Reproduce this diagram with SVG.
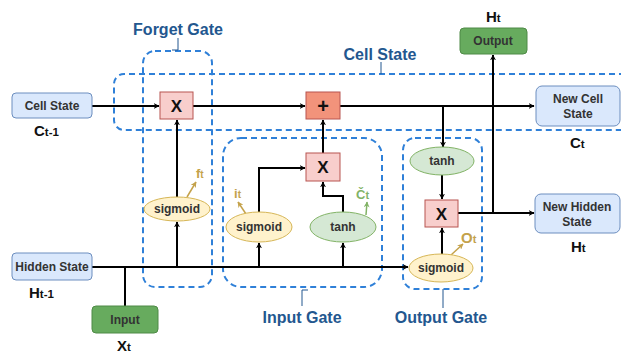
<svg xmlns="http://www.w3.org/2000/svg" width="621" height="356" viewBox="0 0 621 356">
<style>
text{font-family:"Liberation Sans",Arial,sans-serif;font-weight:bold}
.nt{font-size:12px;fill:#333;text-anchor:middle}
.lbl{font-size:16px;fill:#23578f;text-anchor:middle}
.var{font-size:15px;fill:#111}
.sub{font-size:11.5px}
.op{font-size:17px;fill:#111;text-anchor:middle}
.blue{fill:#dae8fc;stroke:#6c8ebf;stroke-width:1}
.grn{fill:#67ab5e;stroke:#4f8a46;stroke-width:1}
.mul{fill:#f8cecc;stroke:#b85450;stroke-width:1}
.add{fill:#f2937b;stroke:#b85450;stroke-width:1}
.sig{fill:#fff2cc;stroke:#d6b656;stroke-width:1}
.tanh{fill:#d5e8d4;stroke:#82b366;stroke-width:1}
.dash{fill:none;stroke:#2f80d8;stroke-width:2;stroke-dasharray:6 4}
.call{fill:none;stroke:#23578f;stroke-width:1}
.ln{fill:none;stroke:#000;stroke-width:2}
.arr{marker-end:url(#ah)}
.gold{fill:#c4a24b}
.gl{fill:none;stroke:#c4a24b;stroke-width:1.5;marker-end:url(#ahg)}
.gg{fill:none;stroke:#82b366;stroke-width:1.5;marker-end:url(#ahgr)}
</style>
<defs>
<marker id="ah" viewBox="0 0 10 10" refX="9" refY="5" markerWidth="6" markerHeight="6" markerUnits="userSpaceOnUse" orient="auto"><path d="M0,0 L10,5 L0,10 L3,5 z" fill="#000"/></marker>
<marker id="ahg" viewBox="0 0 10 10" refX="9" refY="5" markerWidth="6" markerHeight="6" markerUnits="userSpaceOnUse" orient="auto"><path d="M0,0 L10,5 L0,10 L3,5 z" fill="#c4a24b"/></marker>
<marker id="ahgr" viewBox="0 0 10 10" refX="9" refY="5" markerWidth="6" markerHeight="6" markerUnits="userSpaceOnUse" orient="auto"><path d="M0,0 L10,5 L0,10 L3,5 z" fill="#82b366"/></marker>
</defs>
<rect width="621" height="356" fill="#fff"/>

<g id="regions">
<path class="dash" d="M625,74 H124 A10,10 0 0 0 114,84 V120 A10,10 0 0 0 124,130 H625"/>
<rect class="dash" x="143" y="51" width="69" height="236" rx="12"/>
<rect class="dash" x="223" y="138" width="159" height="149" rx="18"/>
<rect class="dash" x="403" y="138" width="79" height="151" rx="12"/>
<path class="call" d="M178,38 V50 H172"/>
<path class="call" d="M381,62 V74"/>
<path class="call" d="M302,306 V290 H308"/>
<path class="call" d="M443,289 V308"/>
<text class="lbl" x="178" y="35">Forget Gate</text>
<text class="lbl" x="380" y="60">Cell State</text>
<text class="lbl" x="302" y="323">Input Gate</text>
<text class="lbl" x="441" y="323">Output Gate</text>
</g>

<g id="connectors">
<path class="ln arr" d="M92,106 H159"/>
<path class="ln arr" d="M193,106 H305"/>
<path class="ln arr" d="M340,106 H534"/>
<path class="ln arr" d="M443,106 V147"/>
<path class="ln" d="M92,267 H125"/>
<path class="ln arr" d="M125,267 H408"/>
<path class="ln" d="M125,306 V267"/>
<path class="ln arr" d="M177,267 V222"/>
<path class="ln arr" d="M177,197 V120"/>
<path class="ln arr" d="M259,267 V243"/>
<path class="ln arr" d="M343,267 V243"/>
<path class="ln arr" d="M259,212 V168 H305"/>
<path class="ln arr" d="M343,212 V196 H323 V182"/>
<path class="ln arr" d="M323,153 V120"/>
<path class="ln arr" d="M442,175 V199"/>
<path class="ln arr" d="M442,254 V228"/>
<path class="ln arr" d="M458,213 H534"/>
<path class="ln arr" d="M493,213 V55"/>
<path class="gl" d="M187,197 L196,182"/>
<path class="gl" d="M246,214 L238,202"/>
<path class="gl" d="M451,255 L463,244"/>
<path class="gg" d="M366,215 L367,202"/>
</g>

<g id="cell-state-in"><rect class="blue" x="12" y="93" width="80" height="25" rx="4"/><text class="nt" x="52" y="110">Cell State</text></g>
<g id="hidden-state-in"><rect class="blue" x="12" y="253" width="80" height="27" rx="4"/><text class="nt" x="52" y="271">Hidden State</text></g>
<g id="input"><rect class="grn" x="92" y="306" width="66" height="27" rx="4"/><text class="nt" x="125" y="324">Input</text></g>
<g id="output"><rect class="grn" x="460" y="28" width="67" height="26" rx="4"/><text class="nt" x="493" y="45">Output</text></g>
<g id="new-cell-state"><rect class="blue" x="536" y="86" width="84" height="40" rx="6"/><text class="nt" x="578" y="103">New Cell</text><text class="nt" x="578" y="118">State</text></g>
<g id="new-hidden-state"><rect class="blue" x="535" y="194" width="85" height="39" rx="6"/><text class="nt" x="577" y="211">New Hidden</text><text class="nt" x="577" y="226">State</text></g>

<g id="forget-mul"><rect class="mul" x="160" y="92" width="33" height="27"/><text class="op" x="176.5" y="112">X</text></g>
<g id="add"><rect class="add" x="306" y="92" width="34" height="27"/><text class="op" x="323" y="113" style="font-size:20px">+</text></g>
<g id="input-mul"><rect class="mul" x="306" y="153" width="34" height="28"/><text class="op" x="323" y="173">X</text></g>
<g id="output-mul"><rect class="mul" x="425" y="200" width="33" height="27"/><text class="op" x="441.5" y="220">X</text></g>

<g id="forget-sigmoid"><ellipse class="sig" cx="177" cy="209" rx="33" ry="12"/><text class="nt" x="177" y="213">sigmoid</text></g>
<g id="input-sigmoid"><ellipse class="sig" cx="259" cy="227" rx="33" ry="15"/><text class="nt" x="259" y="231">sigmoid</text></g>
<g id="input-tanh"><ellipse class="tanh" cx="343" cy="227" rx="33" ry="15"/><text class="nt" x="343" y="231">tanh</text></g>
<g id="output-tanh"><ellipse class="tanh" cx="442" cy="161" rx="32" ry="14"/><text class="nt" x="442" y="165">tanh</text></g>
<g id="output-sigmoid"><ellipse class="sig" cx="441" cy="268" rx="32" ry="14"/><text class="nt" x="441" y="272">sigmoid</text></g>

<g id="labels">
<text class="var" x="34" y="136">C<tspan class="sub">t-1</tspan></text>
<text class="var" x="29" y="298">H<tspan class="sub">t-1</tspan></text>
<text class="var" x="117" y="351">X<tspan class="sub">t</tspan></text>
<text class="var" x="486" y="22">H<tspan class="sub">t</tspan></text>
<text class="var" x="570" y="148">C<tspan class="sub">t</tspan></text>
<text class="var" x="571" y="252">H<tspan class="sub">t</tspan></text>
<text class="gold" x="196" y="178" style="font-size:13px">f<tspan style="font-size:10px">t</tspan></text>
<text class="gold" x="234" y="198" style="font-size:13px">i<tspan style="font-size:10px">t</tspan></text>
<text class="gold" x="461" y="243" style="font-size:15px">O<tspan style="font-size:11px">t</tspan></text>
<text x="356" y="199" style="font-size:13px;fill:#82b366">Č<tspan style="font-size:11px">t</tspan></text>
</g>
</svg>
